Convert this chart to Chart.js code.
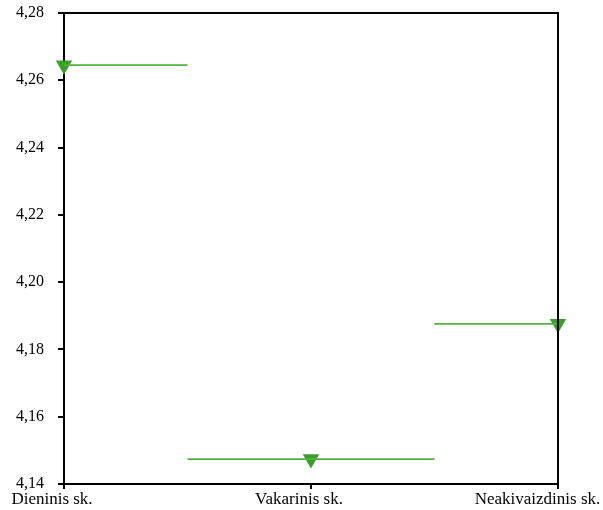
<!DOCTYPE html>
<html>
<head>
<meta charset="utf-8">
<script src="https://cdn.jsdelivr.net/npm/chart.js@4/dist/chart.umd.min.js"></script>
<style>
  html, body { margin: 0; padding: 0; background: #fff; }
  #wrap { width: 603px; height: 510px; }
</style>
</head>
<body>
<div id="wrap"><canvas id="chart"></canvas></div>
<script>
const categories = ['Dieninis sk.', 'Vakarinis sk.', 'Neakivaizdinis sk.'];
const values = [4.2645, 4.1474, 4.1876];
const yTicks = [4.14, 4.16, 4.18, 4.20, 4.22, 4.24, 4.26, 4.28];

const markerColor = '#3c9e2a';
const lineColor = '#52b33f';
const serif = '"Liberation Serif", "Times New Roman", serif';

// horizontal segments: each value spans half way to its neighbours
const segments = values.map((v, i) => ({
  type: 'line',
  data: [
    { x: Math.max(0, i - 0.5), y: v },
    { x: Math.min(categories.length - 1, i + 0.5), y: v }
  ],
  borderColor: lineColor,
  borderWidth: 1.8,
  pointRadius: 0,
  fill: false
}));

// draw the top and right sides of the frame
const frame = {
  id: 'frame',
  afterDraw(chart) {
    const { ctx, chartArea: a } = chart;
    ctx.save();
    ctx.strokeStyle = '#000';
    ctx.lineWidth = 2;
    ctx.beginPath();
    ctx.moveTo(a.left, a.top);
    ctx.lineTo(a.right, a.top);
    ctx.lineTo(a.right, a.bottom);
    ctx.stroke();
    ctx.restore();
  }
};

new Chart(document.getElementById('chart'), {
  type: 'scatter',
  data: {
    datasets: [
      ...segments,
      {
        type: 'scatter',
        data: values.map((v, i) => ({ x: i, y: v })),
        pointStyle: 'triangle',
        rotation: 180,
        pointRadius: 9.5,
        pointHoverRadius: 9.5,
        backgroundColor: markerColor,
        borderColor: markerColor,
        borderWidth: 0
      }
    ]
  },
  plugins: [frame],
  options: {
    responsive: true,
    maintainAspectRatio: false,
    animation: false,
    clip: false,
    layout: { padding: { top: 13, right: 45, left: 0, bottom: 0 } },
    plugins: { legend: { display: false }, tooltip: { enabled: false } },
    scales: {
      x: {
        type: 'linear',
        min: 0,
        max: categories.length - 1,
        afterBuildTicks: s => { s.ticks = categories.map((c, i) => ({ value: i })); },
        afterFit: s => { s.height = 26; s.paddingLeft = 0; s.paddingRight = 0; },
        ticks: {
          // last label is pulled left a little so it stays inside the canvas
          callback: v => v === categories.length - 1 ? categories[v] + '    ' : categories[v],
          font: { family: serif, size: 17 },
          color: '#000',
          padding: 0,
          labelOffset: -12,
          maxRotation: 0,
          autoSkip: false
        },
        grid: { drawOnChartArea: false, drawTicks: true, tickLength: 5, color: '#000', lineWidth: 2 },
        border: { display: true, color: '#000', width: 2 }
      },
      y: {
        min: 4.14,
        max: 4.28,
        afterBuildTicks: s => { s.ticks = yTicks.map(v => ({ value: v })); },
        afterFit: s => { s.width = 64; s.paddingTop = 0; s.paddingBottom = 0; },
        ticks: {
          callback: v => v.toFixed(2).replace('.', ','),
          font: { family: serif, size: 16 },
          color: '#000',
          padding: 14
        },
        grid: { drawOnChartArea: false, drawTicks: true, tickLength: 6, color: '#000', lineWidth: 2 },
        border: { display: true, color: '#000', width: 2 }
      }
    }
  }
});
</script>
</body>
</html>
